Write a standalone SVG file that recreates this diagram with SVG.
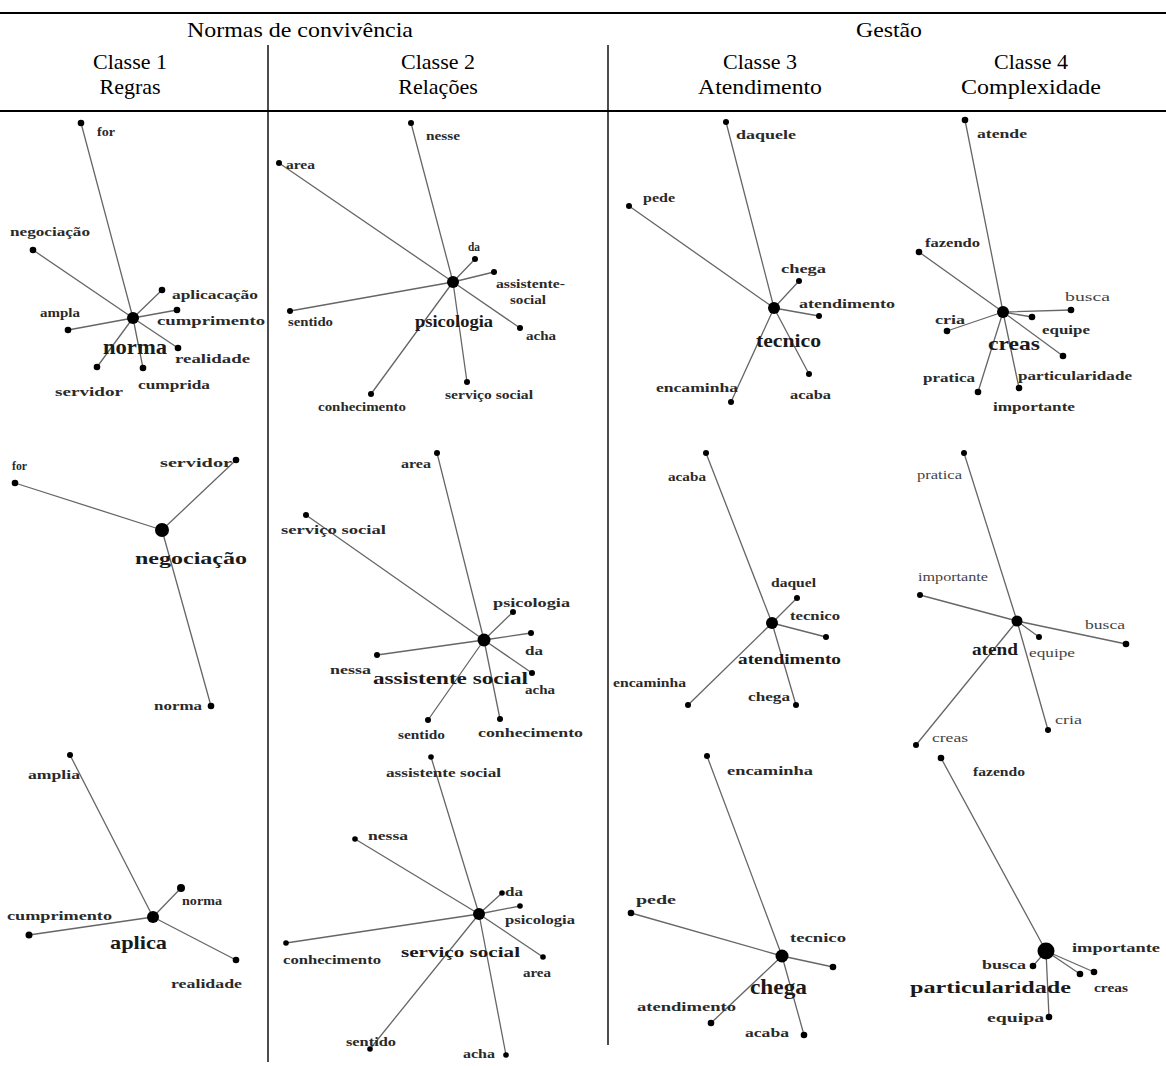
<svg xmlns="http://www.w3.org/2000/svg" width="1166" height="1066" viewBox="0 0 1166 1066">
<style>
.hd{font-family:"Liberation Serif","Times New Roman",serif;font-size:22px;fill:#000;text-anchor:middle}
.rule{stroke:#000;stroke-width:2.2}
.vr{stroke:#000;stroke-width:1.4}
.lk{stroke:#666;stroke-width:1.3;fill:none}
.dt{fill:#000}
.lb{font-family:"Liberation Serif","Times New Roman",serif;font-weight:bold;font-size:12px;fill:#2a2a2a;dominant-baseline:central}
.lt{font-family:"Liberation Serif","Times New Roman",serif;font-size:12px;fill:#444;dominant-baseline:central}
.cl{font-family:"Liberation Serif","Times New Roman",serif;font-weight:bold;fill:#1a1a1a;dominant-baseline:central}
</style>
<rect width="1166" height="1066" fill="#fff"/>
<g id="table">
<line class="rule" x1="0" y1="13" x2="1166" y2="13"/>
<line class="rule" x1="0" y1="111" x2="1166" y2="111"/>
<line class="vr" x1="268" y1="45" x2="268" y2="1062"/>
<line class="vr" x1="608" y1="45" x2="608" y2="1045"/>
<text class="hd" x="300" y="37" textLength="226" lengthAdjust="spacingAndGlyphs">Normas de convivência</text>
<text class="hd" x="889" y="37" textLength="66" lengthAdjust="spacingAndGlyphs">Gestão</text>
<text class="hd" x="130" y="69">Classe 1</text>
<text class="hd" x="130" y="94">Regras</text>
<text class="hd" x="438" y="69">Classe 2</text>
<text class="hd" x="438" y="94">Relações</text>
<text class="hd" x="760" y="69">Classe 3</text>
<text class="hd" x="760" y="94" textLength="124" lengthAdjust="spacingAndGlyphs">Atendimento</text>
<text class="hd" x="1031" y="69">Classe 4</text>
<text class="hd" x="1031" y="94" textLength="140" lengthAdjust="spacingAndGlyphs">Complexidade</text>
</g>
<g id="connectors">
<path class="lk" d="M133 318L81 123M133 318L33 250M133 318L162 290M133 318L177 310M133 318L68 330M133 318L178 348M133 318L97 367M133 318L143 368"/>
<path class="lk" d="M453 282L411 123M453 282L279 163M453 282L475 259M453 282L494 272M453 282L290 311M453 282L520 328M453 282L371 394M453 282L467 382"/>
<path class="lk" d="M774 308L726 122M774 308L629 206M774 308L799 281M774 308L819 316M774 308L731 402M774 308L809 374"/>
<path class="lk" d="M1003 312L965 120M1003 312L919 252M1003 312L1071 310M1003 312L1032 317M1003 312L947 331M1003 312L1063 356M1003 312L978 392M1003 312L1019 388"/>
<path class="lk" d="M162 530L15 483M162 530L236 460M162 530L211 706"/>
<path class="lk" d="M484 640L437 453M484 640L306 515M484 640L513 612M484 640L531 633M484 640L377 655M484 640L532 673M484 640L428 720M484 640L500 719"/>
<path class="lk" d="M772 623L706 453M772 623L797 598M772 623L826 637M772 623L688 705M772 623L796 705"/>
<path class="lk" d="M1017 621L964 453M1017 621L920 595M1017 621L1126 644M1017 621L1039 637M1017 621L1048 730M1017 621L916 745"/>
<path class="lk" d="M153 917L70 755M153 917L181 888M153 917L29 935M153 917L236 960"/>
<path class="lk" d="M479 914L431 757M479 914L355 839M479 914L502 893M479 914L520 906M479 914L286 943M479 914L543 957M479 914L370 1049M479 914L506 1055"/>
<path class="lk" d="M782 956L707 756M782 956L631 913M782 956L833 967M782 956L711 1023M782 956L804 1035"/>
<path class="lk" d="M1046 951L941 758M1046 951L1033 966M1046 951L1080 974M1046 951L1094 972M1046 951L1049 1017"/>
</g>

<g id="p1-norma">
<circle class="dt" cx="133" cy="318" r="6"/>
<text class="cl" x="103" y="347" font-size="20" textLength="64" lengthAdjust="spacingAndGlyphs">norma</text>
</g>
<g id="p1-for"><circle class="dt" cx="81" cy="123" r="3.3"/><text class="lb" x="97" y="132" textLength="18" lengthAdjust="spacingAndGlyphs">for</text></g>
<g id="p1-negociacao"><circle class="dt" cx="33" cy="250" r="3.3"/><text class="lb" x="10" y="232" textLength="80" lengthAdjust="spacingAndGlyphs">negociação</text></g>
<g id="p1-aplicacacao"><circle class="dt" cx="162" cy="290" r="3.3"/><text class="lb" x="172" y="295" textLength="86" lengthAdjust="spacingAndGlyphs">aplicacação</text></g>
<g id="p1-cumprimento"><circle class="dt" cx="177" cy="310" r="3.3"/><text class="lb" x="157" y="321" textLength="108" lengthAdjust="spacingAndGlyphs">cumprimento</text></g>
<g id="p1-ampla"><circle class="dt" cx="68" cy="330" r="3.3"/><text class="lb" x="40" y="313" textLength="40" lengthAdjust="spacingAndGlyphs">ampla</text></g>
<g id="p1-realidade"><circle class="dt" cx="178" cy="348" r="3.3"/><text class="lb" x="175" y="359" textLength="75" lengthAdjust="spacingAndGlyphs">realidade</text></g>
<g id="p1-servidor"><circle class="dt" cx="97" cy="367" r="3.3"/><text class="lb" x="55" y="392" textLength="68" lengthAdjust="spacingAndGlyphs">servidor</text></g>
<g id="p1-cumprida"><circle class="dt" cx="143" cy="368" r="3.3"/><text class="lb" x="138" y="385" textLength="72" lengthAdjust="spacingAndGlyphs">cumprida</text></g>

<g id="p2-psicologia">
<circle class="dt" cx="453" cy="282" r="6"/>
<text class="cl" x="415" y="321" font-size="16" textLength="78" lengthAdjust="spacingAndGlyphs">psicologia</text>
</g>
<g id="p2-nesse"><circle class="dt" cx="411" cy="123" r="3"/><text class="lb" x="426" y="136" font-size="10" textLength="34" lengthAdjust="spacingAndGlyphs">nesse</text></g>
<g id="p2-area"><circle class="dt" cx="279" cy="163" r="3"/><text class="lb" x="286" y="165" font-size="10" textLength="29" lengthAdjust="spacingAndGlyphs">area</text></g>
<g id="p2-da"><circle class="dt" cx="475" cy="259" r="3"/><text class="lb" x="468" y="247" font-size="10" textLength="12" lengthAdjust="spacingAndGlyphs">da</text></g>
<g id="p2-assistente-social"><circle class="dt" cx="494" cy="272" r="3"/><text class="lb" font-size="10"><tspan x="496" y="284" textLength="69" lengthAdjust="spacingAndGlyphs">assistente-</tspan><tspan x="510" y="300" textLength="36" lengthAdjust="spacingAndGlyphs">social</tspan></text></g>
<g id="p2-sentido"><circle class="dt" cx="290" cy="311" r="3"/><text class="lb" x="288" y="322" font-size="10" textLength="45" lengthAdjust="spacingAndGlyphs">sentido</text></g>
<g id="p2-acha"><circle class="dt" cx="520" cy="328" r="3"/><text class="lb" x="526" y="336" font-size="10" textLength="30" lengthAdjust="spacingAndGlyphs">acha</text></g>
<g id="p2-conhecimento"><circle class="dt" cx="371" cy="394" r="3"/><text class="lb" x="318" y="407" font-size="10" textLength="88" lengthAdjust="spacingAndGlyphs">conhecimento</text></g>
<g id="p2-servico-social"><circle class="dt" cx="467" cy="382" r="3"/><text class="lb" x="445" y="395" font-size="10" textLength="88" lengthAdjust="spacingAndGlyphs">serviço social</text></g>

<g id="p3-tecnico">
<circle class="dt" cx="774" cy="308" r="6"/>
<text class="cl" x="756" y="340" font-size="19" textLength="65" lengthAdjust="spacingAndGlyphs">tecnico</text>
</g>
<g id="p3-daquele"><circle class="dt" cx="726" cy="122" r="3"/><text class="lb" x="736" y="135" font-size="11" textLength="60" lengthAdjust="spacingAndGlyphs">daquele</text></g>
<g id="p3-pede"><circle class="dt" cx="629" cy="206" r="3"/><text class="lb" x="643" y="198" font-size="11" textLength="32" lengthAdjust="spacingAndGlyphs">pede</text></g>
<g id="p3-chega"><circle class="dt" cx="799" cy="281" r="3"/><text class="lb" x="781" y="269" font-size="11" textLength="45" lengthAdjust="spacingAndGlyphs">chega</text></g>
<g id="p3-atendimento"><circle class="dt" cx="819" cy="316" r="3"/><text class="lb" x="799" y="304" font-size="11" textLength="96" lengthAdjust="spacingAndGlyphs">atendimento</text></g>
<g id="p3-encaminha"><circle class="dt" cx="731" cy="402" r="3"/><text class="lb" x="656" y="388" font-size="11" textLength="82" lengthAdjust="spacingAndGlyphs">encaminha</text></g>
<g id="p3-acaba"><circle class="dt" cx="809" cy="374" r="3"/><text class="lb" x="790" y="395" font-size="11" textLength="41" lengthAdjust="spacingAndGlyphs">acaba</text></g>

<g id="p4-creas">
<circle class="dt" cx="1003" cy="312" r="6"/>
<text class="cl" x="988" y="343" font-size="19" textLength="52" lengthAdjust="spacingAndGlyphs">creas</text>
</g>
<g id="p4-atende"><circle class="dt" cx="965" cy="120" r="3.3"/><text class="lb" x="977" y="134" font-size="11" textLength="50" lengthAdjust="spacingAndGlyphs">atende</text></g>
<g id="p4-fazendo"><circle class="dt" cx="919" cy="252" r="3.3"/><text class="lb" x="925" y="243" font-size="11" textLength="55" lengthAdjust="spacingAndGlyphs">fazendo</text></g>
<g id="p4-busca"><circle class="dt" cx="1071" cy="310" r="3.3"/><text class="lt" x="1065" y="297" font-size="12" textLength="45" lengthAdjust="spacingAndGlyphs">busca</text></g>
<g id="p4-equipe"><circle class="dt" cx="1032" cy="317" r="3.3"/><text class="lb" x="1042" y="330" font-size="12" textLength="48" lengthAdjust="spacingAndGlyphs">equipe</text></g>
<g id="p4-cria"><circle class="dt" cx="947" cy="331" r="3.3"/><text class="lb" x="935" y="320" font-size="12" textLength="30" lengthAdjust="spacingAndGlyphs">cria</text></g>
<g id="p4-particularidade"><circle class="dt" cx="1063" cy="356" r="3.3"/><text class="lb" x="1018" y="376" font-size="11" textLength="114" lengthAdjust="spacingAndGlyphs">particularidade</text></g>
<g id="p4-pratica"><circle class="dt" cx="978" cy="392" r="3.3"/><text class="lb" x="923" y="378" font-size="11" textLength="52" lengthAdjust="spacingAndGlyphs">pratica</text></g>
<g id="p4-importante"><circle class="dt" cx="1019" cy="388" r="3.3"/><text class="lb" x="993" y="407" font-size="11" textLength="82" lengthAdjust="spacingAndGlyphs">importante</text></g>

<g id="p5-negociacao">
<circle class="dt" cx="162" cy="530" r="7"/>
<text class="cl" x="135" y="558" font-size="16" textLength="112" lengthAdjust="spacingAndGlyphs">negociação</text>
</g>
<g id="p5-for"><circle class="dt" cx="15" cy="483" r="3.3"/><text class="lb" x="12" y="466" font-size="11" textLength="15" lengthAdjust="spacingAndGlyphs">for</text></g>
<g id="p5-servidor"><circle class="dt" cx="236" cy="460" r="3.3"/><text class="lb" x="160" y="463" font-size="11" textLength="72" lengthAdjust="spacingAndGlyphs">servidor</text></g>
<g id="p5-norma"><circle class="dt" cx="211" cy="706" r="3.3"/><text class="lb" x="154" y="706" font-size="11" textLength="48" lengthAdjust="spacingAndGlyphs">norma</text></g>

<g id="p6-assistente-social">
<circle class="dt" cx="484" cy="640" r="6.5"/>
<text class="cl" x="373" y="678" font-size="16" textLength="155" lengthAdjust="spacingAndGlyphs">assistente social</text>
</g>
<g id="p6-area"><circle class="dt" cx="437" cy="453" r="3"/><text class="lb" x="401" y="464" font-size="11" textLength="30" lengthAdjust="spacingAndGlyphs">area</text></g>
<g id="p6-servico-social"><circle class="dt" cx="306" cy="515" r="3"/><text class="lb" x="281" y="530" font-size="12" textLength="105" lengthAdjust="spacingAndGlyphs">serviço social</text></g>
<g id="p6-psicologia"><circle class="dt" cx="513" cy="612" r="3"/><text class="lb" x="493" y="603" font-size="12" textLength="77" lengthAdjust="spacingAndGlyphs">psicologia</text></g>
<g id="p6-da"><circle class="dt" cx="531" cy="633" r="3"/><text class="lb" x="525" y="651" font-size="12" textLength="18" lengthAdjust="spacingAndGlyphs">da</text></g>
<g id="p6-nessa"><circle class="dt" cx="377" cy="655" r="3"/><text class="lb" x="330" y="670" font-size="11" textLength="41" lengthAdjust="spacingAndGlyphs">nessa</text></g>
<g id="p6-acha"><circle class="dt" cx="532" cy="673" r="3"/><text class="lb" x="525" y="690" font-size="12" textLength="30" lengthAdjust="spacingAndGlyphs">acha</text></g>
<g id="p6-sentido"><circle class="dt" cx="428" cy="720" r="3"/><text class="lb" x="398" y="735" font-size="11" textLength="47" lengthAdjust="spacingAndGlyphs">sentido</text></g>
<g id="p6-conhecimento"><circle class="dt" cx="500" cy="719" r="3"/><text class="lb" x="478" y="733" font-size="12" textLength="105" lengthAdjust="spacingAndGlyphs">conhecimento</text></g>

<g id="p7-atendimento">
<circle class="dt" cx="772" cy="623" r="6"/>
<text class="cl" x="738" y="659" font-size="14" textLength="103" lengthAdjust="spacingAndGlyphs">atendimento</text>
</g>
<g id="p7-acaba"><circle class="dt" cx="706" cy="453" r="3"/><text class="lb" x="668" y="477" font-size="10" textLength="38" lengthAdjust="spacingAndGlyphs">acaba</text></g>
<g id="p7-daquel"><circle class="dt" cx="797" cy="598" r="3"/><text class="lb" x="771" y="583" font-size="10" textLength="45" lengthAdjust="spacingAndGlyphs">daquel</text></g>
<g id="p7-tecnico"><circle class="dt" cx="826" cy="637" r="3"/><text class="lb" x="790" y="616" font-size="10" textLength="50" lengthAdjust="spacingAndGlyphs">tecnico</text></g>
<g id="p7-encaminha"><circle class="dt" cx="688" cy="705" r="3"/><text class="lb" x="613" y="683" font-size="10" textLength="73" lengthAdjust="spacingAndGlyphs">encaminha</text></g>
<g id="p7-chega"><circle class="dt" cx="796" cy="705" r="3"/><text class="lb" x="748" y="697" font-size="10" textLength="42" lengthAdjust="spacingAndGlyphs">chega</text></g>

<g id="p8-atend">
<circle class="dt" cx="1017" cy="621" r="5.5"/>
<text class="cl" x="972" y="649" font-size="16" textLength="46" lengthAdjust="spacingAndGlyphs">atend</text>
</g>
<g id="p8-pratica"><circle class="dt" cx="964" cy="453" r="3"/><text class="lt" x="917" y="475" font-size="10" textLength="45" lengthAdjust="spacingAndGlyphs">pratica</text></g>
<g id="p8-importante"><circle class="dt" cx="920" cy="595" r="3"/><text class="lt" x="918" y="577" font-size="10" textLength="70" lengthAdjust="spacingAndGlyphs">importante</text></g>
<g id="p8-busca"><circle class="dt" cx="1126" cy="644" r="3.3"/><text class="lt" x="1085" y="625" font-size="10" textLength="40" lengthAdjust="spacingAndGlyphs">busca</text></g>
<g id="p8-equipe"><circle class="dt" cx="1039" cy="637" r="3"/><text class="lt" x="1029" y="653" font-size="10" textLength="46" lengthAdjust="spacingAndGlyphs">equipe</text></g>
<g id="p8-cria"><circle class="dt" cx="1048" cy="730" r="3"/><text class="lt" x="1055" y="720" font-size="10" textLength="27" lengthAdjust="spacingAndGlyphs">cria</text></g>
<g id="p8-creas"><circle class="dt" cx="916" cy="745" r="3"/><text class="lt" x="932" y="738" font-size="10" textLength="36" lengthAdjust="spacingAndGlyphs">creas</text></g>

<g id="p9-aplica">
<circle class="dt" cx="153" cy="917" r="6"/>
<text class="cl" x="110" y="942" font-size="19" textLength="57" lengthAdjust="spacingAndGlyphs">aplica</text>
</g>
<g id="p9-amplia"><circle class="dt" cx="70" cy="755" r="3"/><text class="lb" x="28" y="775" font-size="11" textLength="52" lengthAdjust="spacingAndGlyphs">amplia</text></g>
<g id="p9-norma"><circle class="dt" cx="181" cy="888" r="4"/><text class="lb" x="182" y="901" font-size="14" textLength="40" lengthAdjust="spacingAndGlyphs">norma</text></g>
<g id="p9-cumprimento"><circle class="dt" cx="29" cy="935" r="3.5"/><text class="lb" x="7" y="916" font-size="12" textLength="105" lengthAdjust="spacingAndGlyphs">cumprimento</text></g>
<g id="p9-realidade"><circle class="dt" cx="236" cy="960" r="3.3"/><text class="lb" x="171" y="984" font-size="11" textLength="71" lengthAdjust="spacingAndGlyphs">realidade</text></g>

<g id="p10-servico-social">
<circle class="dt" cx="479" cy="914" r="6"/>
<text class="cl" x="401" y="952" font-size="15" textLength="119" lengthAdjust="spacingAndGlyphs">serviço social</text>
</g>
<g id="p10-assistente-social"><circle class="dt" cx="431" cy="757" r="2.8"/><text class="lb" x="386" y="773" font-size="10" textLength="115" lengthAdjust="spacingAndGlyphs">assistente social</text></g>
<g id="p10-nessa"><circle class="dt" cx="355" cy="839" r="2.8"/><text class="lb" x="368" y="836" font-size="10" textLength="40" lengthAdjust="spacingAndGlyphs">nessa</text></g>
<g id="p10-da"><circle class="dt" cx="502" cy="893" r="2.8"/><text class="lb" x="505" y="892" font-size="10" textLength="18" lengthAdjust="spacingAndGlyphs">da</text></g>
<g id="p10-psicologia"><circle class="dt" cx="520" cy="906" r="2.8"/><text class="lb" x="505" y="920" font-size="10" textLength="70" lengthAdjust="spacingAndGlyphs">psicologia</text></g>
<g id="p10-conhecimento"><circle class="dt" cx="286" cy="943" r="2.8"/><text class="lb" x="283" y="960" font-size="10" textLength="98" lengthAdjust="spacingAndGlyphs">conhecimento</text></g>
<g id="p10-area"><circle class="dt" cx="543" cy="957" r="2.8"/><text class="lb" x="523" y="973" font-size="10" textLength="28" lengthAdjust="spacingAndGlyphs">area</text></g>
<g id="p10-sentido"><circle class="dt" cx="370" cy="1049" r="2.8"/><text class="lb" x="346" y="1042" font-size="10" textLength="50" lengthAdjust="spacingAndGlyphs">sentido</text></g>
<g id="p10-acha"><circle class="dt" cx="506" cy="1055" r="2.8"/><text class="lb" x="463" y="1054" font-size="10" textLength="32" lengthAdjust="spacingAndGlyphs">acha</text></g>

<g id="p11-chega">
<circle class="dt" cx="782" cy="956" r="6.5"/>
<text class="cl" x="750" y="987" font-size="20" textLength="57" lengthAdjust="spacingAndGlyphs">chega</text>
</g>
<g id="p11-encaminha"><circle class="dt" cx="707" cy="756" r="3"/><text class="lb" x="727" y="771" font-size="14" textLength="86" lengthAdjust="spacingAndGlyphs">encaminha</text></g>
<g id="p11-pede"><circle class="dt" cx="631" cy="913" r="3.3"/><text class="lb" x="636" y="900" font-size="13" textLength="40" lengthAdjust="spacingAndGlyphs">pede</text></g>
<g id="p11-tecnico"><circle class="dt" cx="833" cy="967" r="3.3"/><text class="lb" x="790" y="938" font-size="11" textLength="56" lengthAdjust="spacingAndGlyphs">tecnico</text></g>
<g id="p11-atendimento"><circle class="dt" cx="711" cy="1023" r="3.3"/><text class="lb" x="637" y="1007" font-size="11" textLength="99" lengthAdjust="spacingAndGlyphs">atendimento</text></g>
<g id="p11-acaba"><circle class="dt" cx="804" cy="1035" r="3.3"/><text class="lb" x="745" y="1033" font-size="11" textLength="44" lengthAdjust="spacingAndGlyphs">acaba</text></g>

<g id="p12-particularidade">
<circle class="dt" cx="1046" cy="951" r="8.5"/>
<text class="cl" x="910" y="987" font-size="17" textLength="161" lengthAdjust="spacingAndGlyphs">particularidade</text>
</g>
<g id="p12-fazendo"><circle class="dt" cx="941" cy="758" r="3.3"/><text class="lb" x="973" y="772" font-size="14" textLength="52" lengthAdjust="spacingAndGlyphs">fazendo</text></g>
<g id="p12-importante"><circle class="dt" cx="1080" cy="974" r="3.3"/><text class="lb" x="1072" y="948" font-size="14" textLength="88" lengthAdjust="spacingAndGlyphs">importante</text></g>
<g id="p12-creas"><circle class="dt" cx="1094" cy="972" r="3.3"/><text class="lb" x="1094" y="988" font-size="13" textLength="34" lengthAdjust="spacingAndGlyphs">creas</text></g>
<g id="p12-busca"><circle class="dt" cx="1033" cy="966" r="3.3"/><text class="lb" x="982" y="965" font-size="13" textLength="44" lengthAdjust="spacingAndGlyphs">busca</text></g>
<g id="p12-equipa"><circle class="dt" cx="1049" cy="1017" r="3.3"/><text class="lb" x="987" y="1018" font-size="12" textLength="57" lengthAdjust="spacingAndGlyphs">equipa</text></g>
</svg>
